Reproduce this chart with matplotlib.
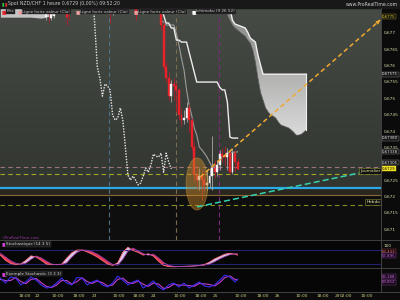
import matplotlib
matplotlib.use("Agg")
import matplotlib.pyplot as plt
import numpy as np
from matplotlib.patches import Ellipse, PathPatch
from matplotlib.lines import Line2D
from matplotlib.colors import LinearSegmentedColormap
from matplotlib.transforms import blended_transform_factory

# --- prix NZD/CHF, barres horaires (x = numero de barre) ---
bar_idx = [18, 19, 20, 21, 26, 27, 43, 44, 53, 60, 61, 62] + list(range(63, 94))
opens = [0.67749, 0.67795, 0.67746, 0.67752, 0.67764, 0.67785, 0.67777, 0.67790, 0.67786, 0.67870, 0.67860, 0.67870,
         0.67832, 0.67725, 0.67597, 0.67563, 0.67508, 0.67545, 0.67539, 0.67527, 0.67450, 0.67435, 0.67441,
         0.67472, 0.67435, 0.67353, 0.67267, 0.67252, 0.67264, 0.67252, 0.67237, 0.67243, 0.67264, 0.67289,
         0.67276, 0.67298, 0.67331, 0.67325, 0.67322, 0.67334, 0.67276, 0.67334, 0.67307]
highs = [0.67820, 0.67810, 0.67810, 0.67800, 0.67790, 0.67800, 0.67800, 0.67810, 0.67810, 0.67900, 0.67890, 0.67880,
         0.67847, 0.67734, 0.67612, 0.67581, 0.67557, 0.67563, 0.67551, 0.67533, 0.67472, 0.67466, 0.67490,
         0.67484, 0.67441, 0.67368, 0.67298, 0.67289, 0.67283, 0.67276, 0.67283, 0.67289, 0.67386, 0.67313,
         0.67313, 0.67344, 0.67350, 0.67356, 0.67350, 0.67344, 0.67350, 0.67344, 0.67319]
lows = [0.67740, 0.67734, 0.67740, 0.67746, 0.67725, 0.67740, 0.67731, 0.67755, 0.67740, 0.67840, 0.67830, 0.67820,
        0.67710, 0.67588, 0.67551, 0.67496, 0.67490, 0.67496, 0.67460, 0.67435, 0.67417, 0.67423, 0.67429,
        0.67398, 0.67344, 0.67246, 0.67228, 0.67221, 0.67191, 0.67215, 0.67221, 0.67228, 0.67221, 0.67258,
        0.67264, 0.67283, 0.67307, 0.67295, 0.67283, 0.67270, 0.67270, 0.67276, 0.67283]
closes = [0.67800, 0.67758, 0.67790, 0.67785, 0.67749, 0.67770, 0.67758, 0.67800, 0.67758, 0.67860, 0.67870, 0.67840,
          0.67725, 0.67597, 0.67563, 0.67508, 0.67545, 0.67539, 0.67527, 0.67450, 0.67435, 0.67441, 0.67472,
          0.67435, 0.67353, 0.67267, 0.67252, 0.67264, 0.67252, 0.67237, 0.67243, 0.67264, 0.67289, 0.67276,
          0.67298, 0.67331, 0.67325, 0.67322, 0.67334, 0.67276, 0.67334, 0.67307, 0.67286]
chikou_from = 60
chikou_shift = 26

# --- Ichimoku (9 26 52) ---
line_x = list(range(63, 94))
tenkan = [0.67740, 0.67734, 0.67725, 0.67725, 0.67725, 0.67725, 0.67700, 0.67664, 0.67624, 0.67588, 0.67527,
          0.67481, 0.67450, 0.67411, 0.67389, 0.67353, 0.67344, 0.67334, 0.67322, 0.67307, 0.67292, 0.67292,
          0.67298, 0.67313, 0.67322, 0.67328, 0.67334, 0.67337, 0.67337, 0.67337, 0.67338]
kijun = [0.67777, 0.67755, 0.67731, 0.67731, 0.67716, 0.67716, 0.67679, 0.67679, 0.67673, 0.67673, 0.67673,
         0.67642, 0.67612, 0.67581, 0.67551, 0.67551, 0.67551, 0.67551, 0.67551, 0.67551, 0.67551, 0.67551,
         0.67551, 0.67535, 0.67527, 0.67527, 0.67490, 0.67383, 0.67380, 0.67380, 0.67380]
cloud_x = list(range(88, 121))
span_a = [0.67816, 0.67786, 0.67777, 0.67740, 0.67728, 0.67725, 0.67722, 0.67719, 0.67716, 0.67703, 0.67685,
          0.67679, 0.67673, 0.67633, 0.67603] + [0.67575] * 18
span_b = [0.67786, 0.67755, 0.67740, 0.67725, 0.67716, 0.67710, 0.67703, 0.67697, 0.67691, 0.67679, 0.67670,
          0.67648, 0.67612, 0.67563, 0.67520, 0.67496, 0.67472, 0.67460, 0.67450, 0.67447, 0.67441, 0.67429,
          0.67420, 0.67417, 0.67414, 0.67411, 0.67405, 0.67398, 0.67389, 0.67389, 0.67392, 0.67398, 0.67405]
past_x = [0, 4, 8, 12, 16, 18, 20, 22, 24]
past_top = [0.67850, 0.67850, 0.67850, 0.67850, 0.67850, 0.67850, 0.67850, 0.67850, 0.67850]
past_bottom = [0.67749, 0.67749, 0.67749, 0.67749, 0.67746, 0.67749, 0.67755, 0.67764, 0.67777]

# --- lignes horizontales et objets dessines ---
lvl_pink = 0.67292
lvl_journalier = 0.67271
lvl_blue = 0.67228
lvl_brown = 0.67206
lvl_hebdo = 0.67176
vlines_x = [42.6, 68.9, 85.7]
vlines_col = ['#4f6f84', '#7c6c50', '#7e2a7e']
orange_x = [78.3, 148.9]
orange_y = [0.67261, 0.67740]
cyan_x = [77.1, 141.0]
cyan_y = [0.67170, 0.67274]
ellipse_c = (77.1, 0.67240)
ellipse_w = 8.6
ellipse_h = 0.00159

# --- stochastiques ---
stoch_x = list(range(0, 93, 2)) + [93]
stoch_k = [58, 36, 22, 18, 20, 36, 55, 50, 36, 20, 17, 18, 19, 45, 68, 80, 80, 72, 62, 50, 35, 20, 14, 25,
           70, 92, 78, 70, 58, 64, 54, 32, 14, 9, 8, 9, 10, 11, 12, 14, 18, 28, 42, 52, 62, 66, 62, 57.895]
stoch_d = [66, 50, 34, 23, 19, 24, 40, 54, 46, 32, 20, 17, 18, 25, 50, 70, 80, 79, 72, 62, 48, 32, 18, 15,
           40, 75, 88, 76, 64, 58, 62, 46, 26, 14, 10, 9, 9, 10, 11, 13, 15, 20, 30, 42, 52, 60, 64, 63.443]
ex_a = [62, 38, 67, 62, 29, 43, 67, 52, 29, 14, 19, 38, 62, 38, 29, 64, 62, 29, 43, 52, 29, 19, 38, 71,
        52, 29, 43, 52, 14, 29, 48, 19, 5, 29, 38, 19, 38, 14, 29, 43, 24, 19, 29, 52, 76, 67, 43, 56.188]
ex_b = [55, 50, 50, 65, 45, 35, 55, 60, 40, 22, 16, 28, 50, 50, 33, 45, 63, 45, 36, 48, 40, 24, 28, 55,
        62, 40, 36, 48, 32, 22, 38, 33, 12, 17, 33, 28, 28, 26, 22, 36, 34, 31, 24, 40, 64, 72, 55, 53.812]

# --- axe des temps et echelle de prix ---
xtick_pos = [9.6, 14.4, 22.6, 30.8, 36.7, 46.5, 54.4, 60.2, 70.4, 78.7, 84.5, 94.4, 103.0, 108.5,
             118.3, 126.5, 132.0, 135.5, 143.8]
xtick_lab = ["18:00", "22", "10:00", "18:00", "23", "10:00", "18:00", "24", "10:00", "18:00", "25",
             "10:00", "18:00", "26", "10:00", "18:00", "29", "02:00", "10:00"]
price_ticks = [0.677, 0.6765, 0.676, 0.6755, 0.675, 0.6745, 0.674, 0.6735, 0.6725, 0.672, 0.6715, 0.671]
box_vals = [0.6775, 0.67575, 0.67380, 0.67338, 0.67305, 0.67286]
box_txt = ["0,6775", "0,67575", "0,67380", "0,67338", "0,67305", "0,6729"]

XLIM = (-0.16, 149.25)
YLIM = (0.67069, 0.67777)

fig = plt.figure(figsize=(4, 3), dpi=100, facecolor='#0b0b0b')
ax = fig.add_axes([0, 60 / 300, 381 / 400, 232 / 300])
ax1 = fig.add_axes([0, 32 / 300, 381 / 400, 28 / 300])
ax2 = fig.add_axes([0, 8 / 300, 381 / 400, 24 / 300])
for a in (ax, ax1, ax2):
    a.set_xlim(*XLIM)
    a.set_xticks([])
    a.set_yticks([])
    for s in a.spines.values():
        s.set_visible(False)

# fond degrade du graphique principal
grad = np.linspace(0, 1, 256).reshape(-1, 1)
cm_bg = LinearSegmentedColormap.from_list('bg', ['#2c2f2a', '#464b45'])
ax.imshow(grad, extent=[XLIM[0], XLIM[1], YLIM[0], YLIM[1]], origin='lower', cmap=cm_bg,
          aspect='auto', zorder=0)
ax.axhspan(YLIM[0], lvl_brown, color='#0e0e0e', zorder=0.5, lw=0)
ax.axhspan(lvl_brown, lvl_blue, color='#2a271e', zorder=0.5, lw=0)

# ancien nuage en haut a gauche
ax.fill_between(past_x, past_bottom, past_top, color='#c4c4c4', lw=0, zorder=1)

# nuage projete avec degrade
poly = ax.fill_between(cloud_x, span_b, span_a, color='none', lw=0)
clip = PathPatch(poly.get_paths()[0], transform=ax.transData, fc='none', ec='none')
ax.add_patch(clip)
cm_cloud = LinearSegmentedColormap.from_list('cl', ['#dadada', '#7b7d79'])
im = ax.imshow(grad, extent=[cloud_x[0], cloud_x[-1], min(span_b), max(span_a)], origin='lower',
               cmap=cm_cloud, aspect='auto', zorder=2)
im.set_clip_path(clip)
ax.plot(cloud_x, span_a, color='#f0f0f0', lw=1.0, zorder=3)
ax.plot(cloud_x, span_b, color='#5e605c', lw=0.5, zorder=3)
ax.plot([cloud_x[-1], cloud_x[-1]], [span_b[-1], span_a[-1]], color='#f0f0f0', lw=0.8, zorder=3)

# lignes verticales et horizontales
for vx, vc in zip(vlines_x, vlines_col):
    ax.axvline(vx, color=vc, lw=0.8, dashes=(4, 3), zorder=1.5)
ax.axhline(lvl_pink, color='#9a7676', lw=0.8, dashes=(4, 3), zorder=1.5)
ax.axhline(lvl_journalier, color='#a6a622', lw=0.8, dashes=(4, 3), zorder=1.5)
ax.axhline(lvl_blue, color='#2aa8e8', lw=1.6, zorder=1.6)
ax.axhline(lvl_brown, color='#8a6a3a', lw=0.8, zorder=1.6)
ax.axhline(lvl_hebdo, color='#8c8c22', lw=0.8, dashes=(4, 3), zorder=1.5)

# tenkan / kijun / chikou
ax.plot(line_x, tenkan, color='#9c9c9c', lw=0.8, zorder=3)
ax.plot(line_x, kijun, color='#ececec', lw=1.0, zorder=3)
ck_x = [b - chikou_shift for b in bar_idx if b >= chikou_from]
ck_y = [c for b, c in zip(bar_idx, closes) if b >= chikou_from]
ax.plot(ck_x, ck_y, color='#e8e8e8', lw=1.0, linestyle=(0, (1, 1)), zorder=3)

# bougies
for x, o, h, l, c in zip(bar_idx, opens, highs, lows, closes):
    up = c >= o
    ax.vlines(x, l, h, color='#a8a8a8' if up else '#b81c28', lw=0.6, zorder=4)
    col = '#f4f4f4' if up else '#ea2129'
    ax.bar(x, c - o, bottom=o, width=0.75, color=col, edgecolor=col, lw=0.3, zorder=5)

# ellipse et lignes de tendance
ax.add_patch(Ellipse(ellipse_c, ellipse_w, ellipse_h, facecolor='#c8882a', alpha=0.45,
                     edgecolor='#d8a040', lw=0.6, zorder=6))
ax.plot(orange_x, orange_y, color='#f0a830', lw=1.1, dashes=(3, 2), zorder=7)
ax.annotate('', xy=(orange_x[1], orange_y[1]), xytext=(orange_x[1] - 1.5, orange_y[1] - 0.0001),
            arrowprops=dict(arrowstyle='-|>', color='#f0a830', lw=0.8, mutation_scale=5), zorder=7)
ax.plot(cyan_x, cyan_y, color='#34d2b0', lw=1.1, dashes=(4, 2), zorder=7)

ax.set_xlim(*XLIM)
ax.set_ylim(*YLIM)

# etiquettes du graphique
tr = blended_transform_factory(ax.transAxes, ax.transData)
ax.text(0.998, lvl_journalier + 0.00008, 'Journalier', transform=tr, ha='right', va='center', fontsize=3.1,
        color='#e6e6a0', bbox=dict(fc='#111111', ec='#8a8a30', lw=0.4, pad=0.7), zorder=8)
ax.text(0.998, lvl_hebdo + 0.00009, 'Hebdo', transform=tr, ha='right', va='center', fontsize=3.1,
        color='#e6e6a0', bbox=dict(fc='#111111', ec='#8a8a30', lw=0.4, pad=0.7), zorder=8)
ax.text(0.004, 0.0045, '©ProRealTime.com', transform=ax.transAxes, fontsize=2.8, color='#9a3aa8')

# echelle de prix a droite
for v in price_ticks:
    ax.text(1.006, v, f"{v:.4f}".rstrip('0').replace('.', ','), transform=tr, ha='left', va='center',
            fontsize=3.1, color='#d8d8a8', clip_on=False)
for v, t in zip(box_vals, box_txt):
    if t == '0,6729':
        kw = dict(color='#111111', bbox=dict(fc='#f0e020', ec='#f0e020', lw=0.3, pad=0.4))
    elif t == '0,6775':
        kw = dict(color='#f0d020', bbox=dict(fc='#111111', ec='#a08a20', lw=0.3, pad=0.4))
    else:
        kw = dict(color='#e0e0e0', bbox=dict(fc='#161616', ec='#8a8a8a', lw=0.3, pad=0.4))
    ax.text(1.003, v, t, transform=tr, ha='left', va='center', fontsize=2.8, clip_on=False, zorder=9, **kw)

# stochastique (14 3 5)
ax1.set_facecolor('#060606')
ax1.set_ylim(2.9, 122.9)
k = np.array(stoch_k)
d = np.array(stoch_d)
ax1.axhline(80, color='#22226e', lw=0.8)
ax1.axhline(20, color='#22226e', lw=0.8)
ax1.fill_between(stoch_x, k, d, where=k >= d, interpolate=True, color='#d8cce8', lw=0)
ax1.fill_between(stoch_x, k, d, where=k < d, interpolate=True, color='#e8324a', lw=0)
ax1.plot(stoch_x, stoch_k, color='#ff7080', lw=0.6)
ax1.plot(stoch_x, stoch_d, color='#a040b0', lw=0.6)
tr1 = blended_transform_factory(ax1.transAxes, ax1.transData)
ax1.text(1.006, 97, '100', transform=tr1, ha='left', va='center', fontsize=3.1, color='#d8d8a8', clip_on=False)
ax1.annotate('63,443', xy=(1.003, stoch_d[-1]), xycoords=tr1, xytext=(0, 1.5), textcoords='offset points',
             ha='left', va='center', fontsize=2.8, color='#e07080', annotation_clip=False,
             bbox=dict(fc='#180808', ec='#a04050', lw=0.3, pad=0.4))
ax1.annotate('57,895', xy=(1.003, stoch_k[-1]), xycoords=tr1, xytext=(0, -0.5), textcoords='offset points',
             ha='left', va='center', fontsize=2.8, color='#d070e0', annotation_clip=False,
             bbox=dict(fc='#150818', ec='#9040a0', lw=0.3, pad=0.4))

# exemple stochastic (3 3 3)
ax2.set_facecolor('#060606')
ax2.set_ylim(-5, 110)
ax2.plot(stoch_x, ex_b, color='#c040c8', lw=0.8)
ax2.plot(stoch_x, ex_a, color='#3a2cf0', lw=0.8)
tr2 = blended_transform_factory(ax2.transAxes, ax2.transData)
ax2.annotate('56,188', xy=(1.003, ex_a[-1]), xycoords=tr2, xytext=(0, 1.8), textcoords='offset points',
             ha='left', va='center', fontsize=2.8, color='#d070e0', annotation_clip=False,
             bbox=dict(fc='#150818', ec='#9040a0', lw=0.3, pad=0.4))
ax2.annotate('53,812', xy=(1.003, ex_b[-1]), xycoords=tr2, xytext=(0, -1.8), textcoords='offset points',
             ha='left', va='center', fontsize=2.8, color='#d070e0', annotation_clip=False,
             bbox=dict(fc='#150818', ec='#9040a0', lw=0.3, pad=0.4))

# axe des temps
trx = blended_transform_factory(ax2.transData, ax2.transAxes)
for xp, lab in zip(xtick_pos, xtick_lab):
    ax2.text(xp, -0.17, lab, transform=trx, ha='center', va='center', fontsize=3.2, color='#cccc80',
             clip_on=False)

# separateurs
for yy in (240, 268, 292):
    fig.add_artist(Line2D([0, 1], [1 - yy / 300] * 2, color='#4a4a4a', lw=0.6, transform=fig.transFigure))
fig.add_artist(Line2D([381 / 400] * 2, [8 / 300, 292 / 300], color='#4a4a4a', lw=0.6, transform=fig.transFigure))

# barre de titre
fig.patches.append(plt.Rectangle((0, 292 / 300), 1, 8 / 300, transform=fig.transFigure, color='#181818', zorder=0))
fig.text(2 / 400, 1 - 4 / 300, '▮', fontsize=3.4, color='#30c040', va='center')
fig.text(4.5 / 400, 1 - 4 / 300, '▮', fontsize=3.4, color='#e03030', va='center')
fig.text(8 / 400, 1 - 4 / 300, 'Spot NZD/CHF 1 heure 0,6729 (0,00%) 09:52:20', fontsize=3.3,
         color='#c8c8c8', va='center')
fig.text(398 / 400, 1 - 4 / 300, 'www.ProRealTime.com', fontsize=3.3, color='#d0d0d0', va='center', ha='right')

# legendes
legend_items = [(2, '#e8202a', 'Prix'), (18, '#f0a0a0', 'Ligne horiz valeur (Clo)'),
                (76, '#f0a0a0', 'Ligne horiz valeur (Clo)'), (134, '#f0a0a0', 'Ligne horiz valeur (Clo)'),
                (192, '#ffffff', 'Ichimoku (9 26 52)')]
for xp, sc, txt in legend_items:
    fig.text(xp / 400, 1 - 11.5 / 300, '■', fontsize=3.6, color=sc, va='center')
    fig.text((xp + 4.5) / 400, 1 - 11.5 / 300, txt, fontsize=3.0, color='#d0d0d0', va='center',
             bbox=dict(fc='#1c1c1c', ec='#3c3c3c', lw=0.3, pad=0.4))
for yp, txt in ((244, 'Stochastique (14 3 5)'), (273.5, 'Exemple Stochastic (3 3 3)')):
    fig.text(1.5 / 400, 1 - yp / 300, '■', fontsize=3.6, color='#e040e0', va='center')
    fig.text(6 / 400, 1 - yp / 300, txt, fontsize=3.0, color='#d0d0d0', va='center',
             bbox=dict(fc='#1c1c1c', ec='#3c3c3c', lw=0.3, pad=0.4))

fig.savefig('out.png', dpi=100, facecolor=fig.get_facecolor())
